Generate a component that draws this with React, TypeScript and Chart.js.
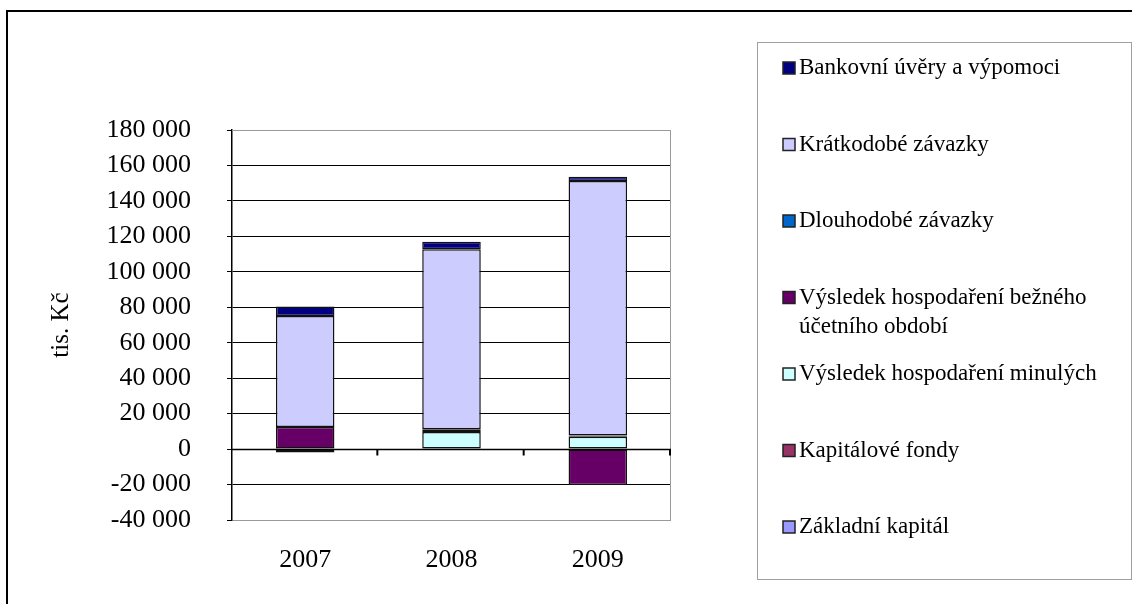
import React, { useEffect, useRef } from "react";
import { Chart, registerables } from "chart.js";

Chart.register(...registerables);

const categories = ["2007", "2008", "2009"];

const seriesLabels = [
  "Základní kapitál",
  "Kapitálové fondy",
  "Výsledek hospodaření minulých",
  "Výsledek hospodaření bežného účetního období",
  "Dlouhodobé závazky",
  "Krátkodobé závazky",
  "Bankovní úvěry a výpomoci",
];

const zakladniKapital = [200, 200, 200];
const kapitaloveFondy = [100, 100, 100];
const vhMinulych = [-1900, 9400, 6600];
const vhBezneho = [12200, 1500, -20300];
const dlouhodobeZavazky = [0, 0, 800];
const kratkodobeZavazky = [62600, 101500, 143500];
const bankovniUvery = [5300, 4300, 2400];

const seriesColors = [
  "#9999FF",
  "#993366",
  "#CCFFFF",
  "#660066",
  "#0066CC",
  "#CCCCFF",
  "#000080",
];

const yMin = -40000;
const yMax = 180000;
const yStep = 20000;
const yAxisTitle = "tis. Kč";

const FONT = '"Liberation Serif", "Times New Roman", serif';

function formatThousands(v: number): string {
  const s = Math.abs(v).toString().replace(/\B(?=(\d{3})+(?!\d))/g, " ");
  return (v < 0 ? "-" : "") + s;
}

const decorPlugin = {
  id: "decor",
  beforeDraw(chart: any) {
    const ctx = chart.ctx;
    ctx.save();
    ctx.fillStyle = "#ffffff";
    ctx.fillRect(0, 0, chart.width, chart.height);
    ctx.restore();
  },
  afterDraw(chart: any) {
    const ctx = chart.ctx;
    const area = chart.chartArea;
    const y = chart.scales.y;
    ctx.save();
    // outer frame
    ctx.strokeStyle = "#000";
    ctx.lineWidth = 2;
    ctx.beginPath();
    ctx.moveTo(7, chart.height + 5);
    ctx.lineTo(7, 11);
    ctx.lineTo(chart.width + 5, 11);
    ctx.stroke();
    // plot border (top/right) grey
    ctx.strokeStyle = "#9a9a9a";
    ctx.lineWidth = 1;
    ctx.beginPath();
    ctx.moveTo(area.left, area.top + 0.5);
    ctx.lineTo(area.right - 0.5, area.top + 0.5);
    ctx.lineTo(area.right - 0.5, area.bottom);
    ctx.stroke();
    // zero axis line and ticks
    const y0 = Math.round(y.getPixelForValue(0)) + 0.5;
    ctx.strokeStyle = "#000";
    ctx.lineWidth = 1.5;
    ctx.beginPath();
    ctx.moveTo(area.left, y0);
    ctx.lineTo(area.right, y0);
    ctx.stroke();
    const n = chart.data.labels.length;
    ctx.lineWidth = 2;
    for (let i = 1; i <= n; i++) {
      const x = area.left + (i * (area.right - area.left)) / n;
      ctx.beginPath();
      ctx.moveTo(x - 1, y0);
      ctx.lineTo(x - 1, y0 + 6);
      ctx.stroke();
    }
    // legend box
    const bx = 757, by = 42, bw = 1131 - 757, bh = 579 - 42;
    ctx.strokeStyle = "#a0a0a0";
    ctx.lineWidth = 1;
    ctx.strokeRect(bx + 0.5, by + 0.5, bw, bh);
    ctx.font = "23px " + FONT;
    ctx.textBaseline = "middle";
    ctx.fillStyle = "#000";
    const ds = chart.data.datasets.slice().reverse();
    const maxW = bx + bw - 800 - 6;
    ds.forEach((d: any, i: number) => {
      const cy = 68 + i * 76.5;
      ctx.fillStyle = d.backgroundColor;
      ctx.fillRect(783, cy - 6, 12, 12);
      ctx.strokeStyle = "#222";
      ctx.lineWidth = 1.5;
      ctx.strokeRect(783, cy - 6, 12, 12);
      const words = String(d.label).split(" ");
      const lines: string[] = [];
      let cur = "";
      words.forEach((w) => {
        const t = cur ? cur + " " + w : w;
        if (ctx.measureText(t).width > maxW && cur) {
          lines.push(cur);
          cur = w;
        } else cur = t;
      });
      if (cur) lines.push(cur);
      ctx.fillStyle = "#000";
      lines.forEach((ln, k) => {
        ctx.fillText(ln, 799, cy + k * 29);
      });
    });
    ctx.restore();
  },
};

export default function App() {
  const ref = useRef<HTMLCanvasElement | null>(null);
  useEffect(() => {
    const seriesValues = [
      zakladniKapital,
      kapitaloveFondy,
      vhMinulych,
      vhBezneho,
      dlouhodobeZavazky,
      kratkodobeZavazky,
      bankovniUvery,
    ];
    const chart = new Chart(ref.current as HTMLCanvasElement, {
      type: "bar",
      data: {
        labels: categories,
        datasets: seriesValues.map((vals, i) => ({
          label: seriesLabels[i],
          data: vals,
          backgroundColor: seriesColors[i],
          borderColor: "#111",
          borderWidth: 1.5,
          borderSkipped: false,
          barPercentage: 0.4,
          categoryPercentage: 1,
        })),
      },
      options: {
        animation: false,
        responsive: true,
        maintainAspectRatio: false,
        layout: { padding: { left: 0, top: 130, right: 1132 - 671, bottom: 0 } },
        plugins: {
          legend: { display: false },
          tooltip: { enabled: false },
        },
        scales: {
          x: {
            stacked: true,
            grid: { display: false, drawTicks: false },
            border: { display: false },
            ticks: {
              color: "#000",
              font: { family: FONT, size: 26 },
              padding: 25,
            },
            afterFit: (s: any) => {
              s.height = 604 - 520;
            },
          },
          y: {
            stacked: true,
            min: yMin,
            max: yMax,
            ticks: {
              stepSize: yStep,
              color: "#000",
              font: { family: FONT, size: 26 },
              padding: 36,
              callback: (v: any) => formatThousands(Number(v)),
            },
            grid: {
              color: (c: any) =>
                c.tick && (c.tick.value === yMax || c.tick.value === yMin) ? "#9a9a9a" : "#000",
              lineWidth: 1,
              tickLength: 5,
              tickColor: "#000",
            },
            border: { display: true, color: "#000", width: 1.5 },
            title: {
              display: true,
              text: yAxisTitle,
              color: "#000",
              font: { family: FONT, size: 25 },
              padding: { top: 46, bottom: 0 },
            },
            afterFit: (s: any) => {
              s.width = 232;
            },
          },
        },
      },
      plugins: [decorPlugin],
    });
    return () => chart.destroy();
  }, []);
  return (
    <div style={{ position: "fixed", left: 0, top: 0, width: 1132, height: 604 }}>
      <canvas ref={ref} />
    </div>
  );
}
